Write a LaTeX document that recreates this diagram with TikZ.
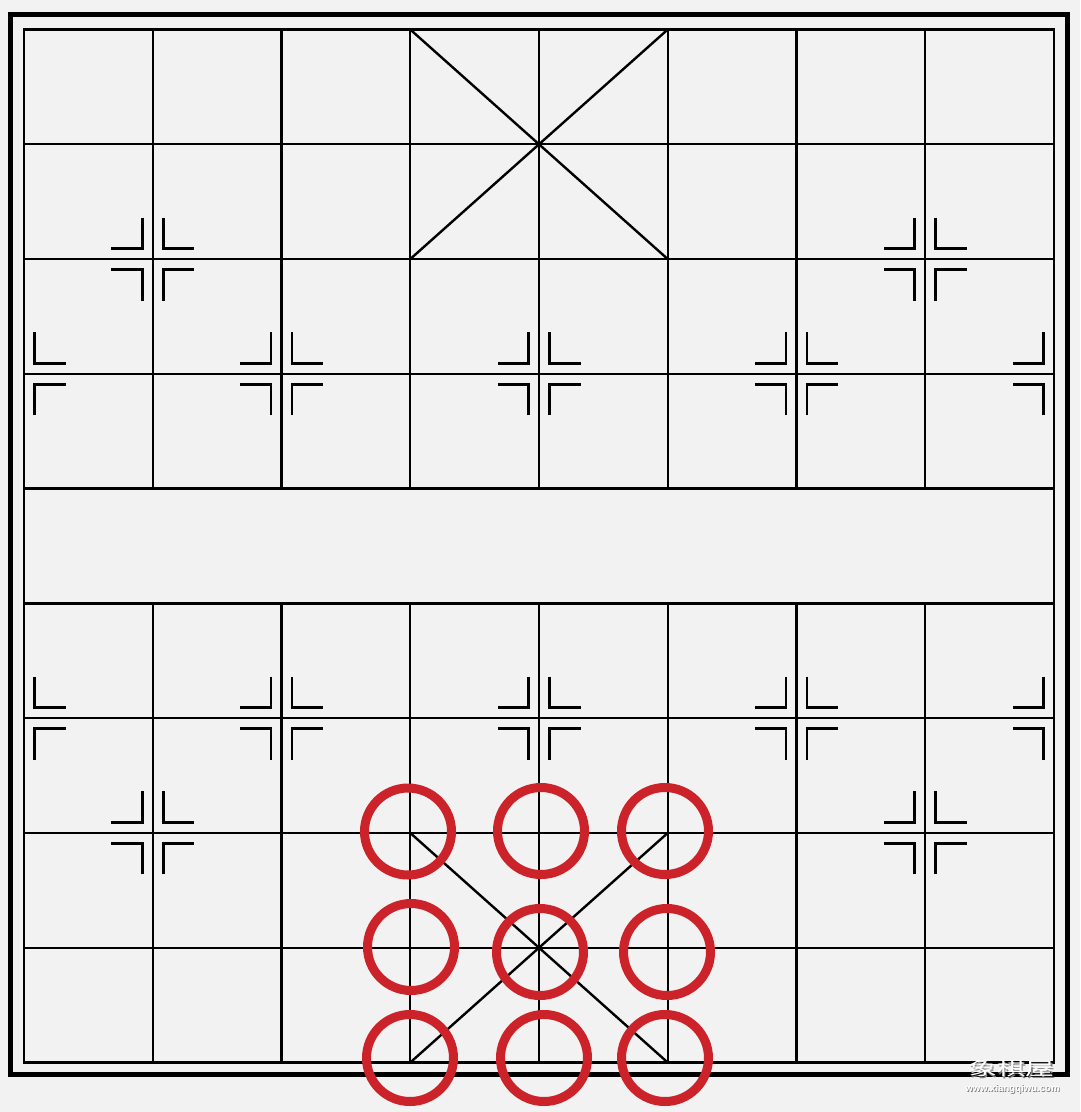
\documentclass[tikz,border=0pt]{standalone}
\usepackage{fontspec}
\newfontfamily\cjkfont{Noto Sans CJK SC}
\newfontfamily\wmfont{Liberation Sans}
\definecolor{bg}{RGB}{242,242,242}
\definecolor{ringred}{RGB}{204,34,41}
\tikzset{
  gridline/.style={line width=2.4pt, black},
  outerline/.style={line width=5pt, black},
  markline/.style={line width=2.6pt, black},
  ring/.style={circle, draw=ringred, line width=9pt, minimum size=87pt, inner sep=0pt, outer sep=0pt},
  wmshadow/.style={text=black!50},
  wmtext/.style={text=white}
}
\newcommand{\bqcx}[1]{24+#1*128.75}
\newcommand{\bqry}[1]{29.5+#1*114.778}
\def\bqgap{10.5}
\def\bqlen{31}
\newcommand{\bqquarter}[4]{% x y sx sy
  \draw[markline] ({#1+#3*\bqgap},{#2+#4*(\bqgap+\bqlen)}) -- ({#1+#3*\bqgap},{#2+#4*\bqgap}) -- ({#1+#3*(\bqgap+\bqlen)},{#2+#4*\bqgap});}
\newcommand{\bqfull}[2]{%
  \bqquarter{\bqcx{#1}}{\bqry{#2}}{-1}{-1}\bqquarter{\bqcx{#1}}{\bqry{#2}}{1}{-1}%
  \bqquarter{\bqcx{#1}}{\bqry{#2}}{-1}{1}\bqquarter{\bqcx{#1}}{\bqry{#2}}{1}{1}}
\newcommand{\bqright}[2]{%
  \bqquarter{\bqcx{#1}}{\bqry{#2}}{1}{-1}\bqquarter{\bqcx{#1}}{\bqry{#2}}{1}{1}}
\newcommand{\bqleft}[2]{%
  \bqquarter{\bqcx{#1}}{\bqry{#2}}{-1}{-1}\bqquarter{\bqcx{#1}}{\bqry{#2}}{-1}{1}}
\begin{document}
\begin{tikzpicture}[x=1pt,y=-1pt]
\fill[bg] (0,0) rectangle (1080,1112);
\useasboundingbox (0,0) rectangle (1080,1112);
% outer frame
\draw[outerline] (10,14.5) rectangle (1067.5,1074);
% inner frame
\draw[gridline] ({\bqcx{0}},{\bqry{0}}) rectangle ({\bqcx{8}},{\bqry{9}});
% horizontal lines
\foreach \j in {1,...,8} \draw[gridline] ({\bqcx{0}},{\bqry{\j}}) -- ({\bqcx{8}},{\bqry{\j}});
% vertical lines broken at river
\foreach \i in {1,...,7} {
  \draw[gridline] ({\bqcx{\i}},{\bqry{0}}) -- ({\bqcx{\i}},{\bqry{4}});
  \draw[gridline] ({\bqcx{\i}},{\bqry{5}}) -- ({\bqcx{\i}},{\bqry{9}});
}
% palaces
\draw[gridline] ({\bqcx{3}},{\bqry{0}}) -- ({\bqcx{5}},{\bqry{2}});
\draw[gridline] ({\bqcx{5}},{\bqry{0}}) -- ({\bqcx{3}},{\bqry{2}});
\draw[gridline] ({\bqcx{3}},{\bqry{7}}) -- ({\bqcx{5}},{\bqry{9}});
\draw[gridline] ({\bqcx{5}},{\bqry{7}}) -- ({\bqcx{3}},{\bqry{9}});
% position marks
\bqfull{1}{2}\bqfull{7}{2}
\bqfull{1}{7}\bqfull{7}{7}
\foreach \r in {3,6} {
  \bqright{0}{\r}
  \bqfull{2}{\r}\bqfull{4}{\r}\bqfull{6}{\r}
  \bqleft{8}{\r}
}
% red rings
\node[ring] (r1) at (408,831.5) {};
\node[ring] (r2) at (541,831) {};
\node[ring] (r3) at (665,831) {};
\node[ring] (r4) at (411,947) {};
\node[ring] (r5) at (540,952) {};
\node[ring] (r6) at (667,952) {};
\node[ring] (r7) at (410,1058) {};
\node[ring] (r8) at (544,1058) {};
\node[ring] (r9) at (665,1058) {};
% watermark
\node[wmshadow, font=\cjkfont\fontsize{18}{18}\selectfont, inner sep=0pt, xscale=1.6] (wms) at (1013,1070.5) {象棋屋};
\node[wmtext, font=\cjkfont\fontsize{18}{18}\selectfont, inner sep=0pt, xscale=1.6] (wm) at (1011.5,1069) {象棋屋};
\node[wmshadow, font=\wmfont\bfseries\fontsize{9.6}{9.6}\selectfont, inner sep=0pt] (urls) at (1013.3,1090) {www.xiangqiwu.com};
\node[wmtext, font=\wmfont\bfseries\fontsize{9.6}{9.6}\selectfont, inner sep=0pt] (url) at (1012.5,1089.2) {www.xiangqiwu.com};
\end{tikzpicture}
\end{document}
